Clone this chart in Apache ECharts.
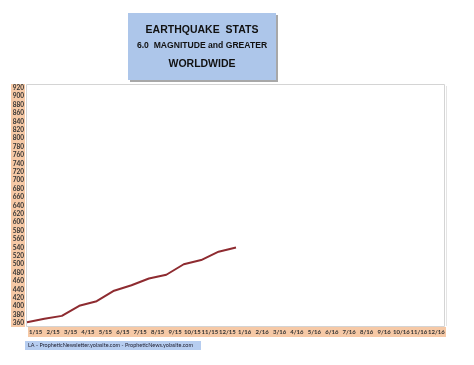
<!DOCTYPE html>
<html><head><meta charset="utf-8">
<script src="https://cdn.jsdelivr.net/npm/echarts@6/dist/echarts.min.js"></script>
<style>html,body{margin:0;padding:0;background:#fff}#c{width:474px;height:365px}</style>
</head><body><div id="c"></div>
<script>
const titleLines = ["EARTHQUAKE  STATS", "6.0  MAGNITUDE and GREATER", "WORLDWIDE"];
const footer = "LA - PropheticNewsletter.yolasite.com - PropheticNews.yolasite.com";
const months = ["1/15","2/15","3/15","4/15","5/15","6/15","7/15","8/15","9/15","10/15","11/15","12/15",
                "1/16","2/16","3/16","4/16","5/16","6/16","7/16","8/16","9/16","10/16","11/16","12/16"];
const monthEnds = ["12/14","1/15","2/15","3/15","4/15","5/15","6/15","7/15","8/15","9/15","10/15","11/15","12/15",
                "1/16","2/16","3/16","4/16","5/16","6/16","7/16","8/16","9/16","10/16","11/16","12/16"];
const cumulative = [362, 370, 377, 401, 412, 437, 450, 466, 475, 500, 510, 530, 540];
const yMin = 360, yMax = 920, yStep = 20;

const chart = echarts.init(document.getElementById('c'), null, {renderer: 'canvas'});
const font = 'Lato, "Liberation Sans", sans-serif';
const tfont = '"Liberation Sans", Arial, sans-serif';
chart.setOption({
  animation: false,
  backgroundColor: '#fff',
  grid: {left: 27, right: 29, top: 88, bottom: 42, show: false},
  graphic: [
    {type: 'rect', shape: {x: 26.5, y: 84.5, width: 418, height: 242}, style: {fill: 'none', stroke: '#d4d4d4', lineWidth: 1}, z: 0},
    {type: 'rect', shape: {x: 446, y: 86, width: 1, height: 240}, style: {fill: '#e4e4e4'}, z: 0},
    {type: 'rect', shape: {x: 130, y: 15, width: 148, height: 67}, style: {fill: '#a8a8a8'}, z: 0},
    {type: 'rect', shape: {x: 128, y: 13, width: 148, height: 67}, style: {fill: '#adc6ea'}, z: 1},
    {type: 'text', x: 202, y: 30, style: {text: titleLines[0], font: 'bold 10.5px ' + tfont, fill: '#111', align: 'center', verticalAlign: 'middle'}, z: 2},
    {type: 'text', x: 202, y: 46, style: {text: titleLines[1], font: 'bold 8.6px ' + tfont, fill: '#111', align: 'center', verticalAlign: 'middle'}, z: 2},
    {type: 'text', x: 202, y: 64, style: {text: titleLines[2], font: 'bold 10.5px ' + tfont, fill: '#111', align: 'center', verticalAlign: 'middle'}, z: 2},
    {type: 'rect', shape: {x: 11, y: 84, width: 14, height: 243}, style: {fill: '#f6c9a6'}, z: 0},
    {type: 'rect', shape: {x: 28, y: 327, width: 418, height: 10}, style: {fill: '#f6c9a6'}, z: 0},
    {type: 'rect', shape: {x: 25, y: 341, width: 176, height: 9}, style: {fill: '#b6cdf0'}, z: 0},
    {type: 'text', x: 28, y: 345.5, style: {text: footer, font: '5.5px Lato, "Liberation Sans", sans-serif', fill: '#223', align: 'left', verticalAlign: 'middle'}, z: 2}
  ],
  xAxis: [
    {type: 'category', data: months, boundaryGap: true, position: 'bottom',
     axisLine: {show: false}, axisTick: {show: false},
     axisLabel: {interval: 0, fontSize: 6, fontWeight: 'bold', color: '#333', fontFamily: font, margin: 6}},
    {type: 'category', data: monthEnds, boundaryGap: false, show: false}
  ],
  yAxis: {type: 'value', min: yMin, max: yMax, interval: yStep,
     axisLine: {show: false}, axisTick: {show: false}, splitLine: {show: false},
     axisLabel: {fontSize: 6.5, fontWeight: 'bold', color: '#333', fontFamily: font, margin: 3}},
  series: [{type: 'line', xAxisIndex: 1, data: cumulative, showSymbol: false,
     lineStyle: {color: '#8e2b30', width: 2}, z: 5}]
});
</script></body></html>
